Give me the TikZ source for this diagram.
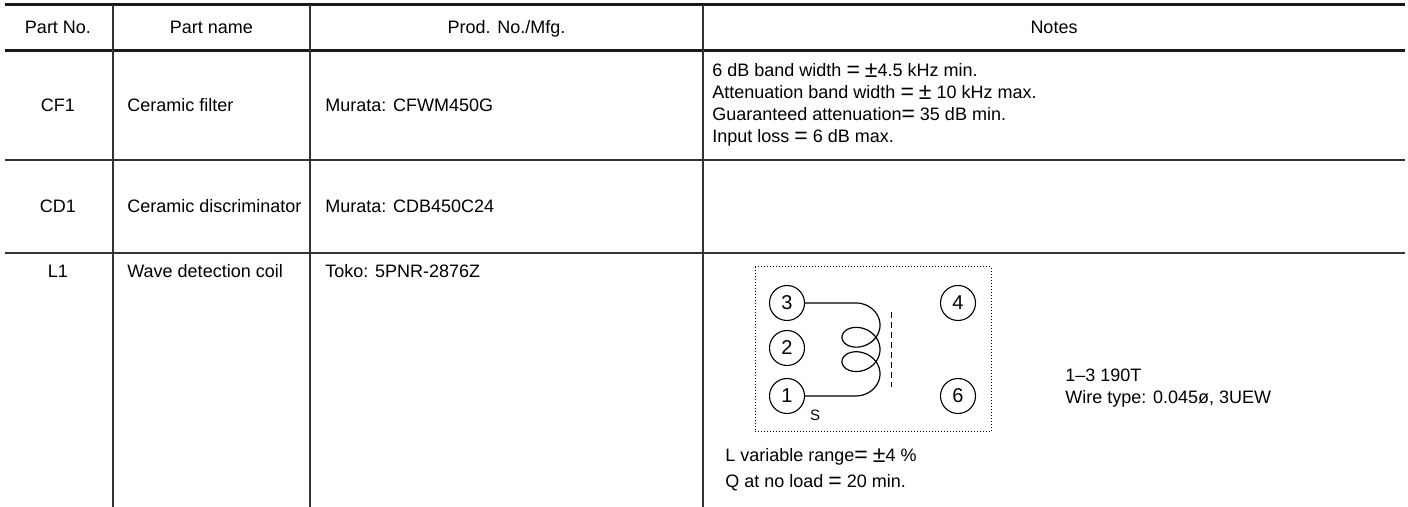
\documentclass[tikz,border=0pt]{standalone}
\usepackage{fontspec}
\setmainfont{Liberation Sans}
\newcommand{\tb}{\fontsize{9}{11}\selectfont}
\newcommand{\tbs}{\fontsize{7.5}{9}\selectfont}
\newcommand{\beq}{{\fontsize{11.5}{11}\selectfont\raisebox{-0.4pt}{=}}}
\newcommand{\bpm}{{\fontsize{11.5}{11}\selectfont\raisebox{-0.4pt}{±}}}

\begin{document}
\begin{tikzpicture}[x=0.5pt,y=-0.5pt,
   every node/.style={font=\tb,inner sep=0pt},
   rule/.style={line width=0.7pt,draw=black!80},
   heavy/.style={line width=1.5pt,draw=black!90},
   term/.style={draw,circle,minimum size=17.5pt,line width=0.55pt,font=\fontsize{10}{11}\selectfont}]
   \useasboundingbox (0,0) rectangle (1408,507);
   \draw[heavy] (5,5) -- (1405,5);
   \draw[heavy] (5,51) -- (1405,51);
   \draw[rule] (5,160) -- (1405,160);
   \draw[rule] (5,253) -- (1405,253);
   \foreach \cx in {113,310,703}
      \draw[rule] (\cx,5) -- (\cx,507);
   \node[anchor=base] (hPartNo)   at (58,33.5)    {Part No.};
   \node[anchor=base] (hPartName) at (211.5,33.5) {Part name};
   \node[anchor=base] (hProdNo)   at (506.5,33.5) {Prod. No./Mfg.};
   \node[anchor=base] (hNotes)    at (1054,33.5)  {Notes};
   \node[anchor=base] (cf1)           at (58,111.5)  {CF1};
   \node[anchor=base west] (cf1name)  at (127,111.5) {Ceramic filter};
   \node[anchor=base west] (cf1prod)  at (325,111.5) {Murata: CFWM450G};
   \node[anchor=base west,align=left] (cf1notes) at (712,142.5)
      {6 dB band width \beq\ \bpm4.5 kHz min.\\
       Attenuation band width \beq\ \bpm\ 10 kHz max.\\
       Guaranteed attenuation\beq\ 35 dB min.\\
       Input loss \beq\ 6 dB max.};
   \node[anchor=base] (cd1)           at (58,212.5)  {CD1};
   \node[anchor=base west] (cd1name)  at (127,212.5) {Ceramic discriminator};
   \node[anchor=base west] (cd1prod)  at (325,212.5) {Murata: CDB450C24};
   \node[anchor=base] (l1)            at (58,278)  {L1};
   \node[anchor=base west] (l1name)   at (127,278) {Wave detection coil};
   \node[anchor=base west] (l1prod)   at (325,278) {Toko: 5PNR-2876Z};
   \draw[densely dotted,line width=0.5pt] (755,267) rectangle (991,432);
   \node[term] (t3) at (787,303) {3};
   \node[term] (t2) at (787,348) {2};
   \node[term] (t1) at (787,396) {1};
   \node[term] (t4) at (958,303) {4};
   \node[term] (t6) at (958,396) {6};
   \node[font=\tbs] (sTag) at (815,415) {S};
   \draw[densely dashed,line width=0.4pt] (891,312) -- (891,387);
   \draw[line width=0.6pt] (t3.east) -- plot[domain=-1.823:14.389,samples=200,smooth]
      ({861+19*cos(\x r)},{303+3.88*(\x+1.823)+15.5*(sin(\x r)+0.968)}) -- (t1.east);
   \node[anchor=base west,align=left,font=\fontsize{9}{13}\selectfont] (l1range) at (725,487.5)
      {L variable range\beq\ \bpm4 \%\\Q at no load \beq\ 20 min.};
   \node[anchor=base west,align=left] (l1wire) at (1065,403.5)
      {1–3 190T\\Wire type: 0.045ø, 3UEW};
\end{tikzpicture}
\end{document}
